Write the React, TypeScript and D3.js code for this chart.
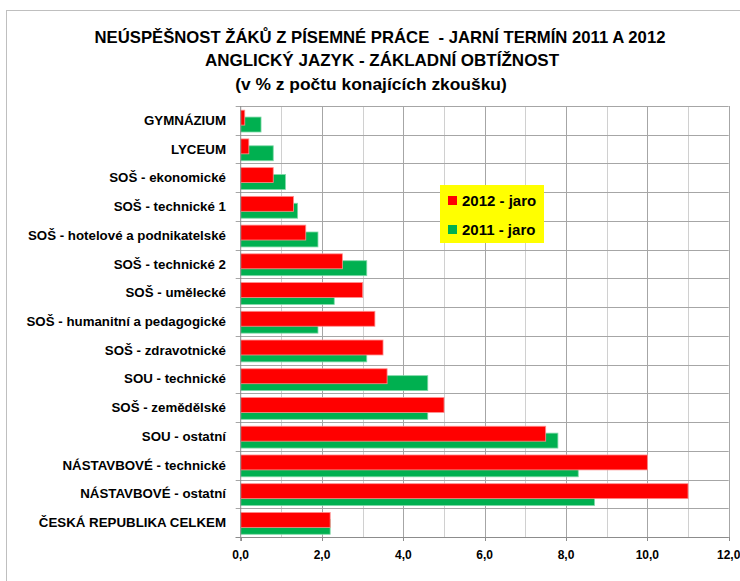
import React from "react";
import * as d3 from "d3";

// School types, top to bottom
const categories: string[] = [
  "GYMNÁZIUM",
  "LYCEUM",
  "SOŠ - ekonomické",
  "SOŠ - technické 1",
  "SOŠ - hotelové a podnikatelské",
  "SOŠ - technické 2",
  "SOŠ - umělecké",
  "SOŠ - humanitní a pedagogické",
  "SOŠ - zdravotnické",
  "SOU - technické",
  "SOŠ - zemědělské",
  "SOU - ostatní",
  "NÁSTAVBOVÉ - technické",
  "NÁSTAVBOVÉ - ostatní",
  "ČESKÁ REPUBLIKA CELKEM",
];

// Failure rate in % — spring 2012
const values2012: number[] = [0.1, 0.2, 0.8, 1.3, 1.6, 2.5, 3.0, 3.3, 3.5, 3.6, 5.0, 7.5, 10.0, 11.0, 2.2];
// Failure rate in % — spring 2011
const values2011: number[] = [0.5, 0.8, 1.1, 1.4, 1.9, 3.1, 2.3, 1.9, 3.1, 4.6, 4.6, 7.8, 8.3, 8.7, 2.2];

const xTicks: number[] = [0, 2, 4, 6, 8, 10, 12];
const gridValues: number[] = [1, 2, 3, 4, 5, 6, 7, 8, 9, 10, 11, 12];

const seriesNames: string[] = ["2012 - jaro", "2011 - jaro"];
const titleLines: string[] = [
  "NEÚSPĚŠNOST ŽÁKŮ Z PÍSEMNÉ PRÁCE  - JARNÍ TERMÍN 2011 A 2012",
  "ANGLICKÝ JAZYK - ZÁKLADNÍ OBTÍŽNOST",
  "(v % z počtu konajících zkoušku)",
];

const W = 740;
const H = 581;
const FONT = "'Liberation Sans', Arial, sans-serif";
const RED = "#ff0000";
const GREEN = "#00b050";

export default function App() {
  const x = d3.scaleLinear().domain([0, 12]).range([240.7, 728.7]);
  const y = d3.scaleBand<string>().domain(categories).range([106, 537]).paddingInner(0).paddingOuter(0);
  const bw = y.bandwidth();
  const barH = bw * 0.52;
  const redOff = bw * 0.145;
  const greenOff = bw * 0.385;
  const plotTop = y.range()[0];
  const plotBottom = y.range()[1];
  const boundaries = categories.map((c) => y(c) as number).concat([plotBottom]);

  return (
    <svg
      width={W}
      height={H}
      style={{ position: "absolute", left: 0, top: 0, background: "#fff" }}
      fontFamily={FONT}
    >
      {/* chart frame */}
      <rect x={6.5} y={10.5} width={W + 40} height={H + 40} fill="#fff" stroke="#bfbfbf" strokeWidth={1} />

      {/* title */}
      {titleLines.map((t, i) => (
        <text
          key={i}
          x={[380, 382, 371][i]}
          y={[43, 66, 90][i]}
          textAnchor="middle"
          fontSize={[16.7, 17, 17.4][i]}
          fontWeight="bold"
          fill="#000"
          style={{ whiteSpace: "pre" }}
        >
          {t}
        </text>
      ))}

      {/* vertical gridlines */}
      {gridValues.map((v) => (
        <line
          key={"g" + v}
          x1={Math.round(x(v)) + 0.5}
          x2={Math.round(x(v)) + 0.5}
          y1={plotTop}
          y2={plotBottom}
          stroke={v % 2 === 0 ? "#a6a6a6" : "#d0d0d0"}
          strokeWidth={1}
        />
      ))}
      {/* horizontal gridlines at category boundaries */}
      {boundaries.map((b, i) => (
        <line
          key={"h" + i}
          x1={x(0) - 5}
          x2={x(12)}
          y1={Math.round(b) + 0.5}
          y2={Math.round(b) + 0.5}
          stroke="#a6a6a6"
          strokeWidth={1}
        />
      ))}

      {/* bars: 2011 behind, 2012 in front */}
      {categories.map((c, i) => (
        <rect
          key={"b11" + i}
          x={x(0)}
          y={(y(c) as number) + greenOff}
          width={x(values2011[i]) - x(0)}
          height={barH}
          fill={GREEN}
          stroke="#7fd8a8"
          strokeWidth={0.8}
        />
      ))}
      {categories.map((c, i) => (
        <rect
          key={"b12" + i}
          x={x(0)}
          y={(y(c) as number) + redOff}
          width={x(values2012[i]) - x(0)}
          height={barH}
          fill={RED}
          stroke="#ff8f8f"
          strokeWidth={0.8}
        />
      ))}

      {/* axes */}
      <line x1={x(0)} x2={x(0)} y1={plotTop} y2={plotBottom + 4} stroke="#8c8c8c" strokeWidth={1} />
      <line x1={x(0) - 5} x2={x(12)} y1={Math.round(plotBottom) + 0.5} y2={Math.round(plotBottom) + 0.5} stroke="#8c8c8c" strokeWidth={1} />
      {xTicks.map((t) => (
        <g key={"t" + t}>
          <line
            x1={Math.round(x(t)) + 0.5}
            x2={Math.round(x(t)) + 0.5}
            y1={plotBottom}
            y2={plotBottom + 4}
            stroke="#8c8c8c"
          />
          <text x={x(t)} y={559} textAnchor="middle" fontSize={12} fontWeight="bold" fill="#000">
            {d3.format(".1f")(t).replace(".", ",")}
          </text>
        </g>
      ))}

      {/* category labels */}
      {categories.map((c) => (
        <text
          key={"l" + c}
          x={226}
          y={(y(c) as number) + bw / 2 + 4.5}
          textAnchor="end"
          fontSize={13.3}
          fontWeight="bold"
          fill="#000"
        >
          {c}
        </text>
      ))}

      {/* legend */}
      <rect x={440} y={185} width={104} height={58} fill="#ffff00" />
      {seriesNames.map((s, i) => (
        <g key={s}>
          <rect x={448} y={196 + i * 29} width={9} height={9} fill={i === 0 ? RED : GREEN} />
          <text x={462} y={205.5 + i * 29} fontSize={15} fontWeight="bold" fill="#000">
            {s}
          </text>
        </g>
      ))}
    </svg>
  );
}
